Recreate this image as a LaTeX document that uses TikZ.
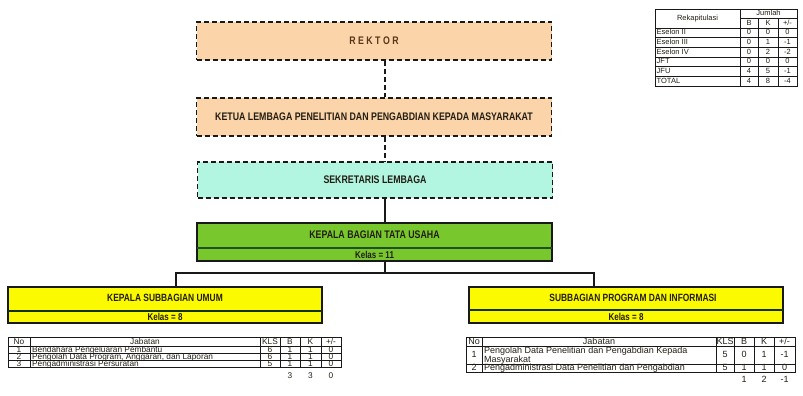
\documentclass[tikz,border=0pt]{standalone}
\usepackage{fontspec}
\setmainfont{Liberation Sans}
\newfontfamily\narrowfont[FakeStretch=0.8]{Liberation Sans}
\usetikzlibrary{positioning}

\definecolor{peach}{RGB}{251,212,170}
\definecolor{mint}{RGB}{178,245,225}
\definecolor{hijau}{RGB}{120,200,45}
\definecolor{hijautua}{RGB}{30,80,30}
\definecolor{kuning}{RGB}{252,250,0}
\definecolor{garis}{RGB}{25,25,25}
\definecolor{teks}{RGB}{35,30,20}
\definecolor{coklat}{RGB}{90,55,25}

\begin{document}
\begin{tikzpicture}[x=1pt,y=-1pt,
    kotak/.style={draw=garis, line width=1.5pt, inner sep=0pt, minimum width=355pt},
    putus/.style={dash pattern=on 5pt off 3pt},
    judul/.style={text=teks, font=\narrowfont\bfseries\fontsize{11}{12}\selectfont},
    subjudul/.style={text=teks, font=\narrowfont\bfseries\fontsize{10.5}{12}\selectfont},
    kelas/.style={text=teks, font=\narrowfont\bfseries\fontsize{10}{11}\selectfont},
    hubung/.style={draw=garis, line width=1.5pt},
    grs/.style={draw=garis, line width=0.6pt},
    sel/.style={text=teks, font=\fontsize{8.3}{8.5}\selectfont, inner sep=0pt, text height=6pt, text depth=1.4pt},
    selb/.style={text=teks, font=\fontsize{9}{9.5}\selectfont, inner sep=0pt, text height=6.5pt, text depth=1.8pt},
    selr/.style={text=teks, font=\fontsize{7.5}{8}\selectfont, inner sep=0pt, text height=5.4pt, text depth=1.5pt}
  ]

  \useasboundingbox (0,0) rectangle (803,396);

  \node[kotak, putus, fill=peach, minimum height=38pt, judul, text=coklat] (rektor) at (374,41) {R E K T O R};
  \node[kotak, putus, fill=peach, minimum height=38pt, judul] (ketua) at (374,117)
    {KETUA LEMBAGA PENELITIAN DAN PENGABDIAN KEPADA MASYARAKAT};
  \node[kotak, putus, fill=mint, minimum height=36pt, judul] (sekretaris) at (375,180) {SEKRETARIS LEMBAGA};

  \node[kotak, fill=hijau, minimum height=38pt] (kabag) at (374.5,242) {};
  \draw[hijautua, line width=1.5pt] ([yshift=-6pt, xshift=0.75pt]kabag.west) -- ([yshift=-6pt, xshift=-0.75pt]kabag.east);
  \node[judul] (kabag-t) at (374.5,235) {KEPALA BAGIAN TATA USAHA};
  \node[kelas] (kabag-k) at (374.5,254.5) {Kelas = 11};

  \node[kotak, fill=kuning, minimum width=314pt, minimum height=36pt] (umum) at (165,305) {};
  \draw[hijautua!60!black, line width=1.2pt] ([yshift=-6pt, xshift=0.75pt]umum.west) -- ([yshift=-6pt, xshift=-0.75pt]umum.east);
  \node[subjudul] (umum-t) at (165,298) {KEPALA SUBBAGIAN UMUM};
  \node[kelas] (umum-k) at (165,317) {Kelas = 8};

  \node[kotak, fill=kuning, minimum width=314pt, minimum height=36pt] (proginf) at (626,305) {};
  \draw[hijautua!60!black, line width=1.2pt] ([yshift=-5pt, xshift=0.75pt]proginf.west) -- ([yshift=-5pt, xshift=-0.75pt]proginf.east);
  \node[subjudul] (proginf-t) at (633,298) {SUBBAGIAN PROGRAM DAN INFORMASI};
  \node[kelas] (proginf-k) at (626,316.5) {Kelas = 8};

  \coordinate (tulang) at (385,0);
  \coordinate (cabang) at (385,273);
  \coordinate (ujungkiri) at (176,273);
  \coordinate (ujungkanan) at (594,273);
  \draw[hubung, putus] (rektor.south -| tulang) -- (ketua.north -| tulang);
  \draw[hubung, putus] (ketua.south -| tulang) -- (sekretaris.north -| tulang);
  \draw[hubung] (sekretaris.south -| tulang) -- (kabag.north -| tulang);
  \draw[hubung] (kabag.south -| tulang) -- (cabang);
  \draw[hubung] (umum.north -| ujungkiri) -- (ujungkiri) -- (ujungkanan) -- (proginf.north -| ujungkanan);

  % tabel rekapitulasi
  \draw[grs] (740,9) -- (740,86.2);
  \foreach \x in {758,778} \draw[grs] (\x,18.5) -- (\x,86.2);
  \draw[grs] (740,18.5) -- (797,18.5);
  \foreach \y in {28,37.7,47.4,57.1,66.8,76.5} \draw[grs] (655,\y) -- (797,\y);
  \draw[grs, line width=0.9pt] (655,9) rectangle (797,86.2);
  \node[selr] (rekap) at (697.5,19) {Rekapitulasi};
  \node[selr] (jumlah) at (768.5,13.5) {Jumlah};
  \node[selr] (rekap-b) at (749,23.3) {B};
  \node[selr] (rekap-k) at (768,23.3) {K};
  \node[selr] (rekap-s) at (787.5,23.3) {+/-};
  \foreach \n/\y/\nama/\b/\k/\s in {1/32.9/Eselon II/0/0/0, 2/42.6/Eselon III/0/1/-1,
      3/52.3/Eselon IV/0/2/-2, 4/62/JFT/0/0/0, 5/71.7/JFU/4/5/-1, 6/81.4/TOTAL/4/8/-4}{
    \node[selr, anchor=west] (rekap-nama-\n) at (656.5,\y) {\nama};
    \node[selr] (rekap-b-\n) at (749,\y) {\b};
    \node[selr] (rekap-k-\n) at (768,\y) {\k};
    \node[selr] (rekap-s-\n) at (787.5,\y) {\s};
  }

  % tabel subbagian umum
  \foreach \x in {30,260,280,300,321} \draw[grs] (\x,337) -- (\x,367.5);
  \foreach \y in {346.5,353.5,360.5} \draw[grs] (8,\y) -- (341,\y);
  \draw[grs, line width=0.9pt] (8,337) rectangle (341,367.5);
  \node[sel] (ku-no) at (19,341.8) {No};
  \node[sel] (ku-jab) at (145,341.8) {Jabatan};
  \node[sel] (ku-kls) at (270,341.8) {KLS};
  \node[sel] (ku-b) at (290,341.8) {B};
  \node[sel] (ku-k) at (310.5,341.8) {K};
  \node[sel] (ku-s) at (331,341.8) {+/-};
  \foreach \n/\y/\jab/\kls/\b/\k/\s in {1/350/{Bendahara Pengeluaran Pembantu}/6/1/1/0,
      2/357/{Pengolah Data Program, Anggaran, dan Laporan}/6/1/1/0,
      3/364/{Pengadministrasi Persuratan}/5/1/1/0}{
    \node[sel] (ku-no-\n) at (19,\y) {\n};
    \node[sel, anchor=west] (ku-jab-\n) at (32,\y) {\jab};
    \node[sel] (ku-kls-\n) at (270,\y) {\kls};
    \node[sel] (ku-b-\n) at (290,\y) {\b};
    \node[sel] (ku-k-\n) at (310.5,\y) {\k};
    \node[sel] (ku-s-\n) at (331,\y) {\s};
  }
  \node[sel] (ku-tb) at (290,376.5) {3};
  \node[sel] (ku-tk) at (310.5,376.5) {3};
  \node[sel] (ku-ts) at (331,376.5) {0};

  % tabel subbagian program dan informasi
  \foreach \x in {482,716,734,754,774} \draw[grs] (\x,337) -- (\x,372.5);
  \foreach \y in {346.5,364.5} \draw[grs] (466,\y) -- (795,\y);
  \draw[grs, line width=0.9pt] (466,337) rectangle (795,372.5);
  \node[selb] (pi-no) at (474,341.8) {No};
  \node[selb] (pi-jab) at (599,341.8) {Jabatan};
  \node[selb] (pi-kls) at (725,341.8) {KLS};
  \node[selb] (pi-b) at (744,341.8) {B};
  \node[selb] (pi-k) at (764,341.8) {K};
  \node[selb] (pi-s) at (784.5,341.8) {+/-};
  \node[selb] (pi-no-1) at (474,355.5) {1};
  \node[text=teks, font=\fontsize{9}{9.3}\selectfont, inner sep=0pt, anchor=west, align=left] (pi-jab-1) at (484,355.5)
    {Pengolah Data Penelitian dan Pengabdian Kepada\\Masyarakat};
  \node[selb] (pi-kls-1) at (725,355.5) {5};
  \node[selb] (pi-b-1) at (744,355.5) {0};
  \node[selb] (pi-k-1) at (764,355.5) {1};
  \node[selb] (pi-s-1) at (784.5,355.5) {-1};
  \node[selb] (pi-no-2) at (474,368.5) {2};
  \node[selb, anchor=west] (pi-jab-2) at (484,368.5) {Pengadministrasi Data Penelitian dan Pengabdian};
  \node[selb] (pi-kls-2) at (725,368.5) {5};
  \node[selb] (pi-b-2) at (744,368.5) {1};
  \node[selb] (pi-k-2) at (764,368.5) {1};
  \node[selb] (pi-s-2) at (784.5,368.5) {0};
  \node[selb] (pi-tb) at (744,380) {1};
  \node[selb] (pi-tk) at (764,380) {2};
  \node[selb] (pi-ts) at (784.5,380) {-1};

\end{tikzpicture}
\end{document}
